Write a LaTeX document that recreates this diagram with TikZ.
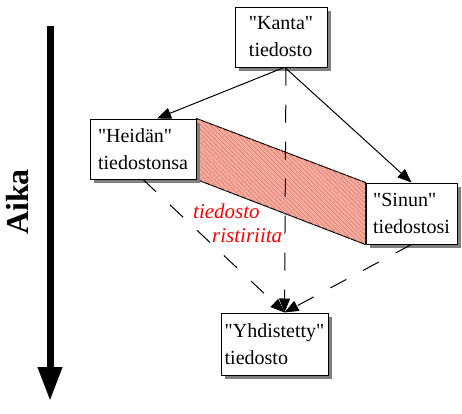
\documentclass[tikz,border=0pt]{standalone}
\usepackage{fontspec}
\setmainfont{Liberation Serif}
\usepackage{xcolor}
\usepackage{tikz}
\usetikzlibrary{calc}
\usetikzlibrary{patterns.meta,arrows.meta}
\usetikzlibrary{shadows}
\usetikzlibrary{backgrounds}

\definecolor{konflikti}{RGB}{245,172,158}
\definecolor{raita}{RGB}{218,122,108}

\begin{document}
\begin{tikzpicture}[x=1pt,y=-1pt,
        tiedosto/.style={draw, line width=1pt, fill=white, align=left, inner sep=2pt, minimum height=60pt, font=\fontsize{20}{27}\selectfont, drop shadow={shadow xshift=4pt, shadow yshift=-4pt, fill=gray, opacity=1}},
        nuoli/.style={line width=1pt, -{Triangle[length=14pt,width=11pt]}},
        katko/.style={nuoli, dash pattern=on 18pt off 19pt}]
        %RAJAT
        \useasboundingbox (0,0) rectangle (462,413);

        %KOORDINAT
        \coordinate (alku) at (50,26);
        \coordinate (loppu) at (50,401);

        %AIKA
        \draw[line width=7pt, -{Triangle[length=34pt,width=23pt]}] (alku) -- (loppu);
        \node[rotate=90, anchor=base, inner sep=0pt, font=\fontsize{32}{36}\selectfont\bfseries] (aika) at (28,202) {Aika};

        %TIEDOSTOT
        \node[tiedosto, minimum width=92pt] (kanta) at (281,37) {\textquotedbl Kanta\textquotedbl\\tiedosto};
        \node[tiedosto, minimum width=106pt] (heidan) at (143,149) {\textquotedbl Heidän\textquotedbl\\tiedostonsa};
        \node[tiedosto, minimum width=91pt, minimum height=61pt] (sinun) at (411.5,213.5) {\textquotedbl Sinun\textquotedbl\\tiedostosi};
        \node[tiedosto, minimum width=107pt, minimum height=62pt] (yhd) at (274.5,344) {\textquotedbl Yhdistetty\textquotedbl\\tiedosto};

        %RISTIRIITA
        \begin{scope}[on background layer]
            \draw[line width=1pt, fill=konflikti, postaction={pattern={Lines[angle=-45,distance=3.2pt,line width=0.5pt]}, pattern color=raita}] (heidan.north east) -- (sinun.north west) -- (sinun.south west) -- (heidan.south east) -- cycle;
        \end{scope}
        \node[anchor=base west, inner sep=0pt, text=red, font=\fontsize{21}{24}\selectfont\itshape] (rist1) at (193,218) {tiedosto};
        \node[anchor=base west, inner sep=0pt, text=red, font=\fontsize{21}{24}\selectfont\itshape] (rist2) at (212,242) {ristiriita};

        %NUOLET
        \draw[nuoli] ($(kanta.south)+(3,0)$) -- ($(heidan.north)+(14,0)$);
        \draw[nuoli] ($(kanta.south)+(4,0)$) -- (sinun.north);
        \draw[katko] ($(kanta.south)+(5,0)$) -- ($(yhd.north)+(10,0)$);
        \draw[katko] (heidan.south) -- ($(yhd.north)+(10,0)$);
        \draw[katko] (sinun.south) -- ($(yhd.north)+(10,0)$);
    \end{tikzpicture}
\end{document}
